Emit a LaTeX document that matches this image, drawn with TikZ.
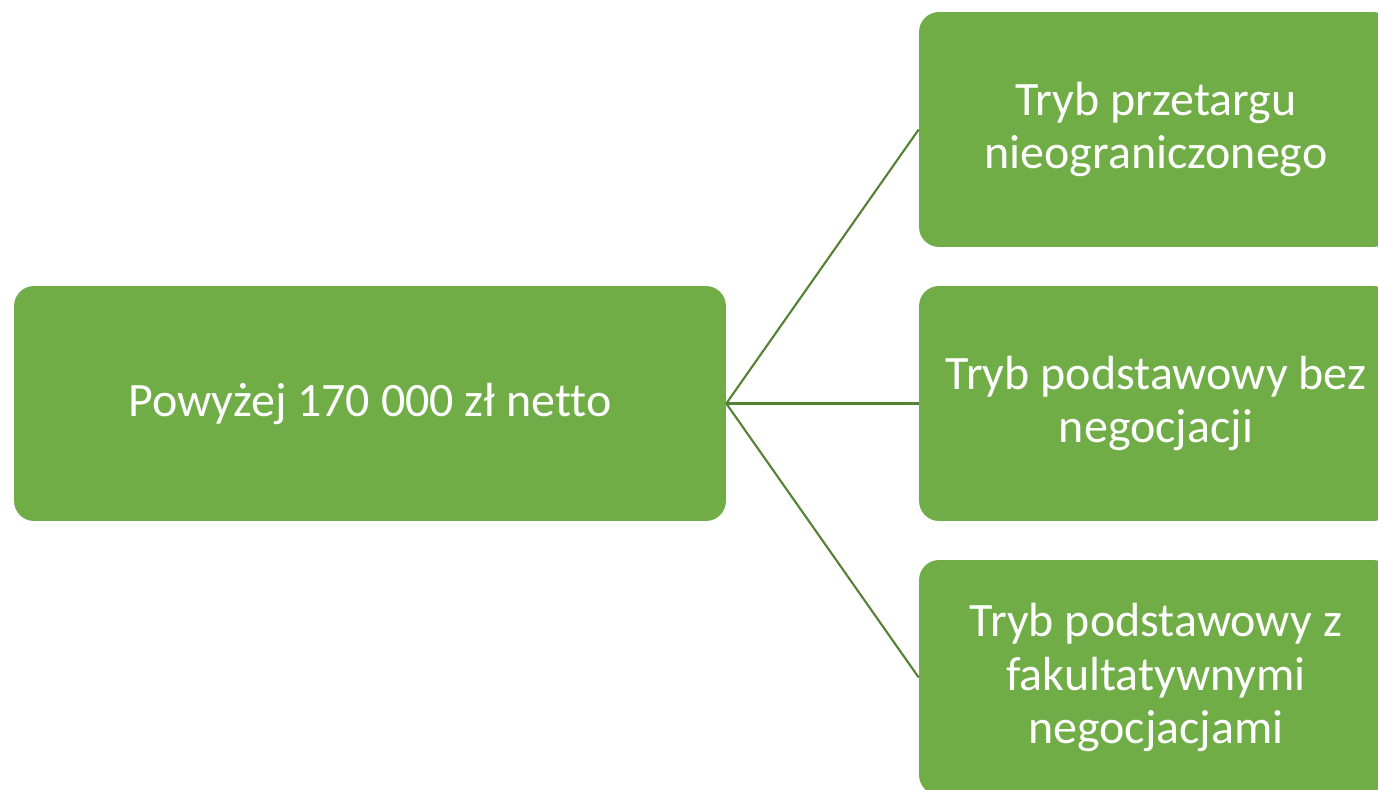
\documentclass[tikz,border=0pt]{standalone}
\usepackage{fontspec}
\setmainfont[Ligatures=NoCommon]{Carlito}
\definecolor{gruen}{HTML}{70AD47}
\definecolor{linie}{HTML}{548235}

\begin{document}
\begin{tikzpicture}[%
        x=0.02cm, y=-0.02cm,
        kasten/.style={fill=gruen, rounded corners=0.4cm, text=white,
            align=center, inner sep=0pt, minimum height=4.7cm,
            font=\fontsize{27.3}{30.2}\selectfont},
        verbindung/.style={draw=linie, line width=1.2pt}
        ]
            \useasboundingbox (0,0) rectangle (1378,790);

            % Kaesten
            \node [kasten, minimum width=14.24cm] (wert) at (370,403.5)
                {Powyżej 170 000 zł netto};
            \node [kasten, minimum width=9.48cm] (tryb1) at (1156,129.5)
                {Tryb przetargu\\nieograniczonego};
            \node [kasten, minimum width=9.48cm] (tryb2) at (1156,403.5)
                {Tryb podstawowy bez\\negocjacji};
            \node [kasten, minimum width=9.48cm] (tryb3) at (1156,677.5)
                {Tryb podstawowy z\\fakultatywnymi\\negocjacjami};

            % Verbindungen
            \foreach \n in {tryb1,tryb2,tryb3}
                \draw [verbindung] (wert.east) -- (\n.west);

        \end{tikzpicture}
\end{document}
